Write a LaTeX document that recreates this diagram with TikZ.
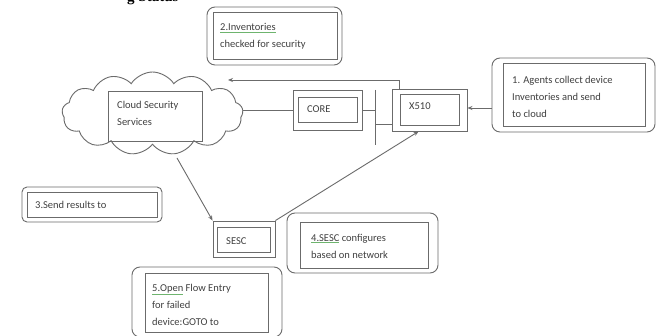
\documentclass[tikz,border=0pt]{standalone}
\usepackage{fontspec}
\setmainfont{Carlito}
\newfontfamily\hdfont{Liberation Serif}
\usetikzlibrary{shapes.symbols,arrows.meta}
\definecolor{linec}{gray}{0.42}
\definecolor{textc}{gray}{0.25}
\definecolor{gsq}{RGB}{110,180,110}
\newcommand{\gul}[1]{{\color{gsq}\underline{\color{textc}#1}}}
\begin{document}
\begin{tikzpicture}[x=1pt,y=-1pt,
  rbox/.style={draw=linec,line width=0.9pt,rounded corners=8pt,inner sep=0pt},
  sbox/.style={draw=linec,line width=0.9pt,inner sep=0pt},
  txt/.style={text=textc,font=\fontsize{10.5}{17}\selectfont,align=left,inner sep=0pt,anchor=west},
  conn/.style={draw=linec,line width=0.9pt},
  arr/.style={conn,-{Stealth[length=5pt,width=4pt]}}]
\useasboundingbox[fill=white] (0,0) rectangle (657,336);

% clipped header
\node[anchor=base west,inner sep=0pt,font=\hdfont\bfseries\fontsize{15}{18}\selectfont] (hdr) at (127,2) {g Status};

% box 2
\node[rbox,minimum width=135pt,minimum height=58pt] (b2o) at (274.5,36) {};
\node[sbox,minimum width=124pt,minimum height=47pt] (b2i) at (275,35.5) {};
\node[txt] (b2t) at (220,36.5) {\gul{2.Inventories}\\checked for security};

% cloud
\node[cloud,cloud puffs=13,cloud puff arc=115,cloud ignores aspect,draw=linec,line width=0.9pt,
      minimum width=181pt,minimum height=83pt,inner sep=0pt] (cloud) at (152.5,113.5) {};
\node[sbox,minimum width=94pt,minimum height=50pt] (cloudi) at (155,116) {};
\node[txt] (cloudt) at (117,113.5) {Cloud Security\\Services};

% CORE
\node[sbox,minimum width=69pt,minimum height=40pt] (coreo) at (327.5,110) {};
\node[sbox,minimum width=59pt,minimum height=25pt] (corei) at (327.5,109.5) {};
\node[txt] (coret) at (307,109.5) {CORE};

% X510
\node[sbox,minimum width=75pt,minimum height=42pt] (xo) at (429.5,110) {};
\node[sbox,minimum width=59pt,minimum height=31pt] (xi) at (429.5,109.5) {};
\node[txt] (xt) at (409,106) {X510};

% box 1
\node[rbox,minimum width=163pt,minimum height=74pt] (b1o) at (573.5,95) {};
\node[sbox,minimum width=142pt,minimum height=63pt] (b1i) at (574,94.5) {};
\node[txt] (b1t) at (512,97) {1. Agents collect device\\Inventories and send\\to cloud};

% box 3
\node[rbox,rounded corners=5pt,minimum width=140pt,minimum height=35pt] (b3o) at (92,204.5) {};
\node[sbox,minimum width=130pt,minimum height=25pt] (b3i) at (92,204.5) {};
\node[txt] (b3t) at (35,205) {3.Send results to};

% SESC
\node[sbox,minimum width=62pt,minimum height=36pt] (so) at (244,239) {};
\node[sbox,minimum width=53pt,minimum height=25pt] (si) at (243.5,239.5) {};
\node[txt] (st) at (226,241) {SESC};

% box 4
\node[rbox,minimum width=151pt,minimum height=60pt] (b4o) at (362.5,243) {};
\node[sbox,minimum width=128pt,minimum height=46pt] (b4i) at (364,245) {};
\node[txt] (b4t) at (311,246) {\gul{4.SESC} configures\\based on network};

% box 5
\node[rbox,minimum width=150pt,minimum height=70pt] (b5o) at (207,302) {};
\node[sbox,minimum width=123pt,minimum height=59pt] (b5i) at (206.5,302.5) {};
\node[txt] (b5t) at (152,305) {\gul{5.Open} Flow Entry\\for failed\\device:GOTO to};

% bar
\coordinate (bart) at (375,90);
\coordinate (barb) at (375,145);
\draw[conn] (bart) -- (barb);

% connectors
\draw[conn] (coreo.west) -- (coreo.west -| cloud.east);
\draw[conn] (coreo.east) -- (coreo.east -| bart);
\coordinate (bj) at (375,124);
\draw[conn] (bj) -- (bj -| xo.west);
\coordinate (ctop) at (228,80);
\draw[arr] (xi.north west |- xo.north) |- (ctop);
\coordinate (a1) at (492,108);
\draw[arr] (a1 -| b1o.west) -- (a1 -| xo.east);
\coordinate (cs) at (177,158);
\draw[arr] (cs) -- (so.north west);
\draw[arr] (so.north east) -- (xo.-117);
\end{tikzpicture}
\end{document}
